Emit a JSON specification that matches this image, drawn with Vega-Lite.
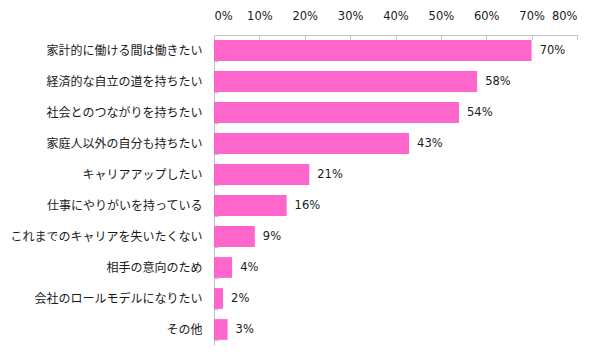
{
  "$schema": "https://vega.github.io/schema/vega-lite/v6.json",
  "autosize": {"type": "none"},
  "padding": {"left": 214, "top": 35, "right": 28, "bottom": 16},
  "width": 363,
  "height": 310,
  "background": "white",
  "config": {
    "view": {"stroke": null},
    "font": "Noto Sans CJK JP",
    "axis": {"domainColor": "#c0c0c0", "tickColor": "#c0c0c0", "labelColor": "#1a1a1a", "labelFontSize": 12, "labelFont": "Noto Sans CJK JP", "grid": false, "title": null}
  },
  "data": {
    "values": [
      {"item": "家計的に働ける間は働きたい", "pct": 70},
      {"item": "経済的な自立の道を持ちたい", "pct": 58},
      {"item": "社会とのつながりを持ちたい", "pct": 54},
      {"item": "家庭人以外の自分も持ちたい", "pct": 43},
      {"item": "キャリアアップしたい", "pct": 21},
      {"item": "仕事にやりがいを持っている", "pct": 16},
      {"item": "これまでのキャリアを失いたくない", "pct": 9},
      {"item": "相手の意向のため", "pct": 4},
      {"item": "会社のロールモデルになりたい", "pct": 2},
      {"item": "その他", "pct": 3}
    ]
  },
  "encoding": {
    "y": {
      "field": "item", "type": "nominal", "sort": null,
      "scale": {"paddingInner": 0.33, "paddingOuter": 0.165},
      "axis": {"tickBand": "extent", "tickSize": -4, "labelPadding": 16, "labelLimit": 0, "domainWidth": 1}
    }
  },
  "layer": [
    {
      "mark": {"type": "bar", "color": "#FF66CC"},
      "encoding": {
        "x": {
          "field": "pct", "type": "quantitative",
          "scale": {"domain": [0, 80], "nice": false},
          "axis": {"orient": "top", "values": [0,10,20,30,40,50,60,70,80], "labelExpr": "datum.value + '%'", "tickSize": -4, "labelPadding": 18, "labelFontSize": 11.5, "labelFont": "DejaVu Sans"}
        }
      }
    },
    {
      "mark": {"type": "text", "align": "left", "dx": 8, "fontSize": 11.5, "font": "DejaVu Sans", "color": "#1a1a1a", "text": {"expr": "datum.pct + '%'"}},
      "encoding": {
        "x": {"field": "pct", "type": "quantitative"}
      }
    }
  ]
}
